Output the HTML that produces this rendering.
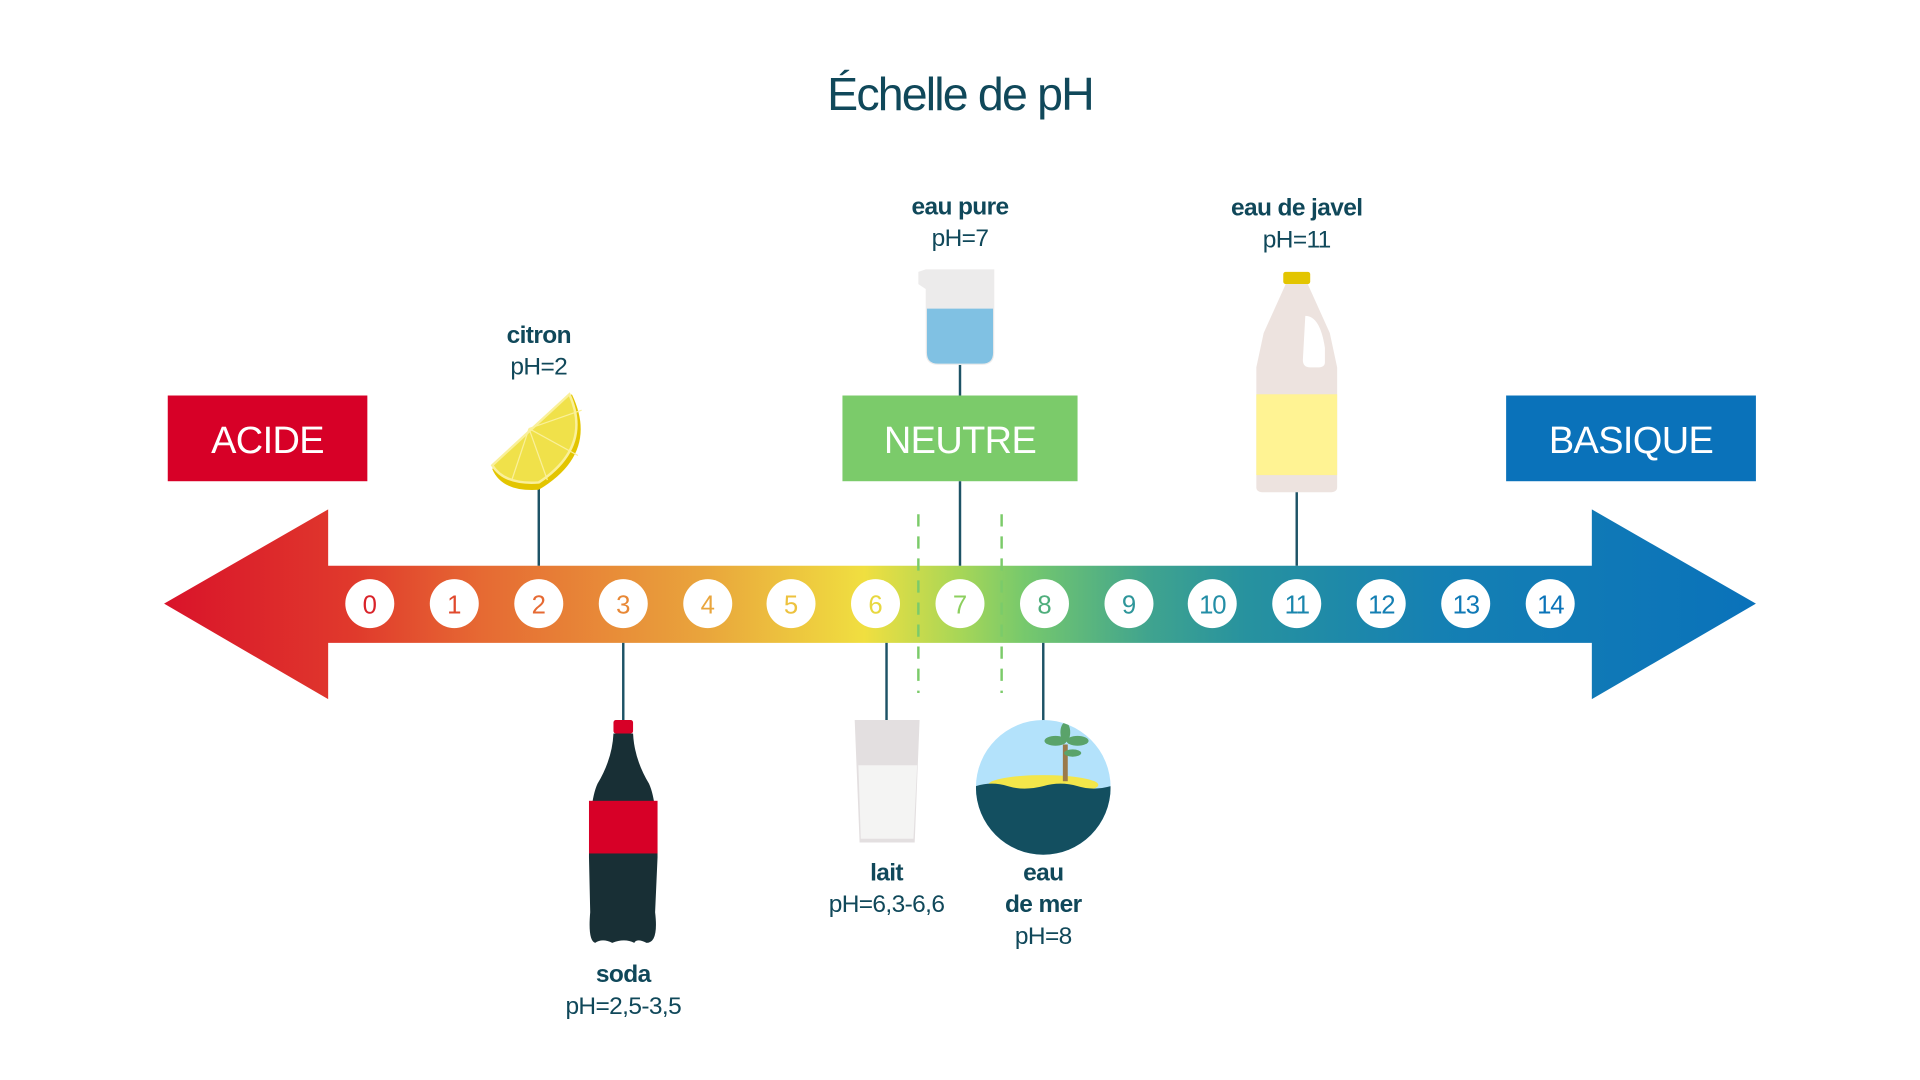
<!DOCTYPE html>
<html><head><meta charset="utf-8"><style>
html,body{margin:0;padding:0;background:#fff;width:1920px;height:1080px;overflow:hidden}
svg{display:block}
text{font-family:"Liberation Sans",sans-serif}
</style></head><body>
<svg width="1920" height="1080" viewBox="0 0 1568 882" preserveAspectRatio="none" xmlns="http://www.w3.org/2000/svg">
<defs>
<linearGradient id="g" x1="134" x2="1434" y1="0" y2="0" gradientUnits="userSpaceOnUse">
<stop offset="0" stop-color="#d9132a"/>
<stop offset="0.12" stop-color="#e03a2c"/>
<stop offset="0.2" stop-color="#e66a33"/>
<stop offset="0.34" stop-color="#e9a53c"/>
<stop offset="0.44" stop-color="#f0df40"/>
<stop offset="0.5" stop-color="#a7d657"/>
<stop offset="0.54" stop-color="#77c96c"/>
<stop offset="0.62" stop-color="#3fa38f"/>
<stop offset="0.68" stop-color="#27929f"/>
<stop offset="0.8" stop-color="#1580b3"/>
<stop offset="1" stop-color="#0a72ba"/>
</linearGradient>
</defs>
<text x="784" y="90" text-anchor="middle" font-size="38" letter-spacing="-1.5" fill="#10485a">Échelle de pH</text>

<polygon points="134,493 268,416 268,462 1300,462 1300,416 1434,493 1300,571 1300,525 268,525 268,571" fill="url(#g)"/>

<rect x="137" y="323" width="163" height="70" fill="#d70027"/>
<text x="218.5" y="370" text-anchor="middle" font-size="31" letter-spacing="-0.5" fill="#fff">ACIDE</text>
<rect x="688" y="323" width="192" height="70" fill="#7bcb6a"/>
<text x="784" y="370" text-anchor="middle" font-size="31" letter-spacing="-0.5" fill="#fff">NEUTRE</text>
<rect x="1230" y="323" width="204" height="70" fill="#0a72ba"/>
<text x="1332" y="370" text-anchor="middle" font-size="31" letter-spacing="-0.5" fill="#fff">BASIQUE</text>

<g stroke="#1d5366" stroke-width="2">
<line x1="440" y1="395" x2="440" y2="462"/>
<line x1="784" y1="298" x2="784" y2="323"/>
<line x1="784" y1="393" x2="784" y2="462"/>
<line x1="1059" y1="400" x2="1059" y2="462"/>
<line x1="509" y1="525" x2="509" y2="590"/>
<line x1="724" y1="525" x2="724" y2="590"/>
<line x1="852" y1="525" x2="852" y2="590"/>
</g>
<g stroke="#7bcb6a" stroke-width="2" stroke-dasharray="10,8">
<line x1="750" y1="420" x2="750" y2="566"/>
<line x1="818" y1="420" x2="818" y2="566"/>
</g>

<g font-size="21" text-anchor="middle">
<circle cx="302" cy="493" r="20" fill="#fff"/><text x="302" y="501" fill="#d9232a">0</text>
<circle cx="371" cy="493" r="20" fill="#fff"/><text x="371" y="501" fill="#e04a2e">1</text>
<circle cx="440" cy="493" r="20" fill="#fff"/><text x="440" y="501" fill="#e66a33">2</text>
<circle cx="509" cy="493" r="20" fill="#fff"/><text x="509" y="501" fill="#e88836">3</text>
<circle cx="578" cy="493" r="20" fill="#fff"/><text x="578" y="501" fill="#e9a53c">4</text>
<circle cx="646" cy="493" r="20" fill="#fff"/><text x="646" y="501" fill="#edc23e">5</text>
<circle cx="715" cy="493" r="20" fill="#fff"/><text x="715" y="501" fill="#e8d840">6</text>
<circle cx="784" cy="493" r="20" fill="#fff"/><text x="784" y="501" fill="#8ccf5e">7</text>
<circle cx="853" cy="493" r="20" fill="#fff"/><text x="853" y="501" fill="#4fae7c">8</text>
<circle cx="922" cy="493" r="20" fill="#fff"/><text x="922" y="501" fill="#2e969a">9</text>
<circle cx="990" cy="493" r="20" fill="#fff"/><text x="990" y="501" letter-spacing="-1" fill="#238ea6">10</text>
<circle cx="1059" cy="493" r="20" fill="#fff"/><text x="1059" y="501" letter-spacing="-1" fill="#1a86ad">11</text>
<circle cx="1128" cy="493" r="20" fill="#fff"/><text x="1128" y="501" letter-spacing="-1" fill="#147fb3">12</text>
<circle cx="1197" cy="493" r="20" fill="#fff"/><text x="1197" y="501" letter-spacing="-1" fill="#0f79b6">13</text>
<circle cx="1266" cy="493" r="20" fill="#fff"/><text x="1266" y="501" letter-spacing="-1" fill="#0b74b9">14</text>
</g>

<g font-size="20" fill="#10485a" text-anchor="middle" letter-spacing="-0.5">
<text x="440" y="280" font-weight="bold">citron</text><text x="440" y="306">pH=2</text>
<text x="784" y="175" font-weight="bold">eau pure</text><text x="784" y="201">pH=7</text>
<text x="1059" y="176" font-weight="bold">eau de javel</text><text x="1059" y="202">pH=11</text>
<text x="509" y="802" font-weight="bold">soda</text><text x="509" y="828">pH=2,5-3,5</text>
<text x="724" y="719" font-weight="bold">lait</text><text x="724" y="745">pH=6,3-6,6</text>
<text x="852" y="719" font-weight="bold">eau</text><text x="852" y="745" font-weight="bold">de mer</text><text x="852" y="771">pH=8</text>
</g>

<path d="M467,322 Q490,370 440,400 Q410,402 402,383 Z" fill="#e3c500"/>
<path d="M465,322 Q484,365 440,394 Q412,396 402,380 Z" fill="#f0e14a" stroke="#faf09a" stroke-width="2"/>
<g stroke="#faf09a" stroke-width="1"><line x1="432" y1="350" x2="475" y2="335"/><line x1="432" y1="350" x2="472" y2="372"/><line x1="432" y1="350" x2="447" y2="392"/><line x1="432" y1="350" x2="418" y2="392"/></g>

<path d="M750,222 L756,220 L812,220 L812,288 Q812,298 802,298 L766,298 Q756,298 756,288 L756,236 L750,232 Z" fill="#ecebeb"/>
<path d="M757,252 L811,252 L811,288 Q811,297 802,297 L766,297 Q757,297 757,288 Z" fill="#80c1e3"/>

<rect x="1048" y="222" width="22" height="10" rx="2" fill="#e3c500"/>
<path d="M1050,232 L1068,232 L1086,272 L1092,300 L1092,398 Q1092,402 1086,402 L1032,402 Q1026,402 1026,398 L1026,300 L1032,272 Z" fill="#ede3df"/>
<rect x="1026" y="322" width="66" height="66" fill="#fff393"/>
<path d="M1066,258 Q1078,258 1082,284 L1082,296 Q1082,300 1076,300 L1070,300 Q1064,300 1064,294 Z" fill="#fff"/>

<rect x="501" y="588" width="16" height="11" rx="2" fill="#d70027"/>
<path d="M501,599 L517,599 Q518,620 530,640 Q537,655 537,700 L535,745 Q538,770 528,770 Q520,766 518,770 Q510,766 500,770 Q492,766 486,770 Q480,768 482,745 L481,700 Q481,655 488,640 Q500,620 501,599 Z" fill="#182f35"/>
<rect x="481" y="654" width="56" height="43" fill="#d70027"/>

<path d="M698,588 L751,588 L747,688 L702,688 Z" fill="#e3dfe0"/>
<path d="M701,625 L749,625 L746,685 L703,685 Z" fill="#f4f4f3"/>

<clipPath id="c"><circle cx="852" cy="643" r="55"/></clipPath>
<g clip-path="url(#c)">
<rect x="797" y="588" width="110" height="110" fill="#b3e2fb"/>
<ellipse cx="852" cy="641" rx="45" ry="8" fill="#f3e64a"/>
<rect x="868" y="608" width="4" height="30" fill="#9a7a4a"/>
<g fill="#5aa36a"><ellipse cx="862" cy="605" rx="9" ry="4"/><ellipse cx="880" cy="605" rx="9" ry="4"/><ellipse cx="870" cy="598" rx="4" ry="8"/><ellipse cx="876" cy="615" rx="7" ry="3"/></g>
<path d="M797,642 Q810,638 823,642 Q836,646 852,642 Q866,638 880,642 Q893,646 907,642 L907,700 L797,700 Z" fill="#134f60"/>
</g>
</svg>
</body></html>
